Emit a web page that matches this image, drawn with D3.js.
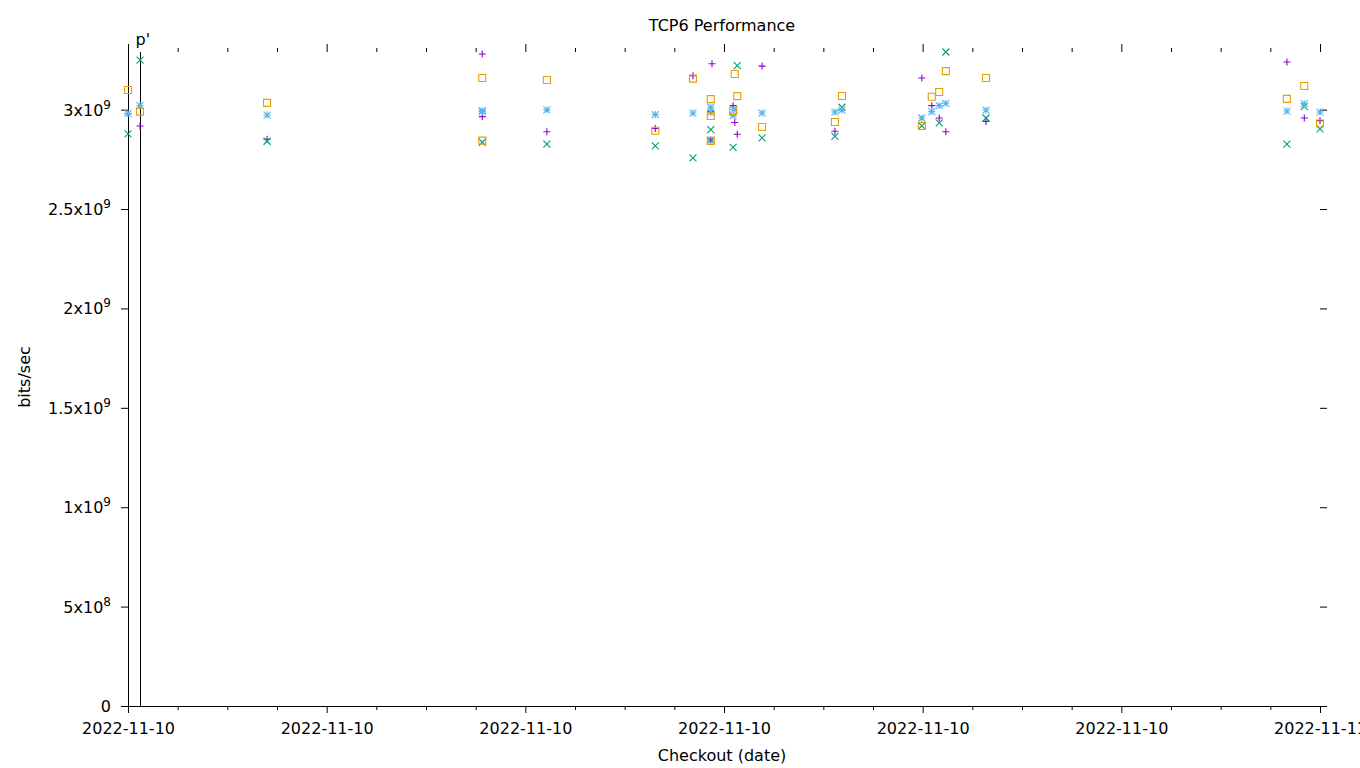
<!DOCTYPE html>
<html><head><meta charset="utf-8">
<script src="https://cdn.jsdelivr.net/npm/d3@7"></script>
<style>body{margin:0;background:#fff}svg text{font-family:"DejaVu Sans",sans-serif;font-size:16px;fill:#000}</style>
</head><body>
<script>
// ---- data ----
const title = "TCP6 Performance";
const xLabel = "Checkout (date)";
const yLabel = "bits/sec";
const xDomain = ["2022-11-10T00:00:00", "2022-11-11T00:00:00"];
const yTicks = [0, 5e8, 1e9, 1.5e9, 2e9, 2.5e9, 3e9];
const yMax = 3.29e9;
const markerTime = "2022-11-10T00:14:30";
const markerLabel = "p'";

// series 1: purple plus
const plusTimes = ["2022-11-10T00:00:00","2022-11-10T00:14:30","2022-11-10T02:48:00","2022-11-10T07:08:00","2022-11-10T07:08:00","2022-11-10T08:26:00","2022-11-10T10:37:00","2022-11-10T11:22:30","2022-11-10T11:45:30","2022-11-10T11:44:00","2022-11-10T11:44:00","2022-11-10T12:11:00","2022-11-10T12:13:00","2022-11-10T12:16:00","2022-11-10T12:46:00","2022-11-10T14:14:00","2022-11-10T15:59:00","2022-11-10T16:11:00","2022-11-10T16:20:00","2022-11-10T16:28:00","2022-11-10T17:16:30","2022-11-10T23:20:00","2022-11-10T23:41:00","2022-11-11T00:00:00"];
const plusValues = [2.98e9,2.918e9,2.851e9,3.28e9,2.965e9,2.889e9,2.905e9,3.171e9,3.231e9,2.99e9,2.847e9,3.02e9,2.935e9,2.876e9,3.219e9,2.891e9,3.159e9,3.02e9,2.958e9,2.889e9,2.941e9,3.24e9,2.958e9,2.945e9];

// series 2: green cross
const crossTimes = ["2022-11-10T00:00:00","2022-11-10T00:14:30","2022-11-10T02:48:00","2022-11-10T07:08:00","2022-11-10T08:26:00","2022-11-10T10:37:00","2022-11-10T11:22:30","2022-11-10T11:44:00","2022-11-10T11:44:00","2022-11-10T12:16:00","2022-11-10T12:11:00","2022-11-10T12:46:00","2022-11-10T14:14:00","2022-11-10T14:22:30","2022-11-10T15:59:00","2022-11-10T16:20:00","2022-11-10T16:28:00","2022-11-10T17:16:30","2022-11-10T23:20:00","2022-11-10T23:41:00","2022-11-11T00:00:00"];
const crossValues = [2.878e9,3.249e9,2.841e9,2.836e9,2.827e9,2.818e9,2.757e9,2.899e9,2.847e9,3.221e9,2.81e9,2.858e9,2.866e9,3.012e9,2.918e9,2.934e9,3.29e9,2.958e9,2.826e9,3.017e9,2.903e9];

// series 3: blue star
const starTimes = ["2022-11-10T00:00:00","2022-11-10T00:14:30","2022-11-10T02:48:00","2022-11-10T07:08:00","2022-11-10T07:08:00","2022-11-10T08:26:00","2022-11-10T10:37:00","2022-11-10T11:22:30","2022-11-10T11:44:00","2022-11-10T11:44:00","2022-11-10T12:12:00","2022-11-10T12:11:00","2022-11-10T12:46:00","2022-11-10T14:14:00","2022-11-10T14:22:30","2022-11-10T15:59:00","2022-11-10T16:11:00","2022-11-10T16:20:00","2022-11-10T16:28:00","2022-11-10T17:16:30","2022-11-10T23:20:00","2022-11-10T23:41:00","2022-11-11T00:00:00"];
const starValues = [2.981e9,3.02e9,2.973e9,2.995e9,2.99e9,2.999e9,2.975e9,2.983e9,3.012e9,2.987e9,3.0e9,2.97e9,2.983e9,2.988e9,2.998e9,2.958e9,2.99e9,3.02e9,3.032e9,2.998e9,2.993e9,3.03e9,2.988e9];

// series 4: orange square
const squareTimes = ["2022-11-10T00:00:00","2022-11-10T00:14:30","2022-11-10T02:48:00","2022-11-10T07:08:00","2022-11-10T07:08:00","2022-11-10T08:26:00","2022-11-10T10:37:00","2022-11-10T11:22:30","2022-11-10T11:44:00","2022-11-10T11:44:00","2022-11-10T11:44:00","2022-11-10T12:13:00","2022-11-10T12:16:00","2022-11-10T12:11:00","2022-11-10T12:46:00","2022-11-10T14:14:00","2022-11-10T14:22:30","2022-11-10T15:59:00","2022-11-10T16:11:00","2022-11-10T16:20:00","2022-11-10T16:28:00","2022-11-10T17:16:30","2022-11-10T23:20:00","2022-11-10T23:41:00","2022-11-11T00:00:00"];
const squareValues = [3.099e9,2.99e9,3.034e9,3.159e9,2.844e9,3.149e9,2.894e9,3.156e9,3.053e9,2.968e9,2.843e9,3.179e9,3.068e9,2.993e9,2.913e9,2.938e9,3.069e9,2.918e9,3.065e9,3.089e9,3.194e9,3.159e9,3.054e9,3.119e9,2.93e9];

const seriesColors = ["#9400d3", "#009e73", "#56b4e9", "#e69f00"];

// ---- drawing ----
const W = 1360, H = 768;
const L = 128, R = 1320, T = 52, B = 706;
const parse = d3.utcParse("%Y-%m-%dT%H:%M:%S");
const svg = d3.select("body").append("svg").attr("width", W).attr("height", H);

const x = d3.scaleUtc().domain(xDomain.map(parse)).range([L, R]);
const y = d3.scaleLinear().domain([0, yMax]).range([B, T]);

// title & labels
svg.append("text").attr("x", 722).attr("y", 31).attr("text-anchor", "middle").text(title);
svg.append("text").attr("x", 722).attr("y", 761).attr("text-anchor", "middle").text(xLabel);
svg.append("text").attr("transform", "translate(30,377) rotate(-90)").attr("text-anchor", "middle").text(yLabel);

// x axis (bottom) major + minor
const majorX = x.ticks(d3.utcHour.every(4));
const minorX = x.ticks(d3.utcHour.every(1));
const fmtX = d3.utcFormat("%Y-%m-%d");
const minorOnly = minorX.filter(t => !majorX.some(m => +m === +t));
const bottom = svg.append("g").attr("transform", `translate(0,${B})`)
  .call(d3.axisBottom(x).tickValues(majorX).tickFormat(fmtX).tickSize(7).tickSizeOuter(0).tickPadding(10));
bottom.select(".domain").attr("stroke", "#000").attr("d", `M${L - 7},0.5H${R}`);
bottom.selectAll("text").style("font-size", "16px").style("font-family", "DejaVu Sans").attr("fill", "#000");
svg.append("g").attr("transform", `translate(0,${B})`)
  .call(d3.axisBottom(x).tickValues(minorOnly).tickFormat("").tickSize(4).tickSizeOuter(0))
  .select(".domain").remove();
// top mirrored ticks (outward)
svg.append("g").attr("transform", `translate(0,${T})`)
  .call(d3.axisTop(x).tickValues(majorX).tickFormat("").tickSize(8).tickSizeOuter(0))
  .select(".domain").remove();
svg.append("g").attr("transform", `translate(0,${T})`)
  .call(d3.axisTop(x).tickValues(minorOnly).tickFormat("").tickSize(4).tickSizeOuter(0))
  .select(".domain").remove();

// y axis (left)
const left = svg.append("g").attr("transform", `translate(${L},0)`)
  .call(d3.axisLeft(y).tickValues(yTicks).tickFormat("").tickSize(7).tickSizeOuter(0));
left.select(".domain").attr("d", `M0.5,${B}V${T - 8}`);
// right mirrored ticks
svg.append("g").attr("transform", `translate(${R},0)`)
  .call(d3.axisRight(y).tickValues(yTicks).tickFormat("").tickSize(7).tickSizeOuter(0))
  .select(".domain").remove();

// y tick labels with superscripts
yTicks.forEach(v => {
  const t = svg.append("text").attr("x", L - 17).attr("y", y(v) + 6).attr("text-anchor", "end");
  if (v === 0) { t.text("0"); return; }
  const e = Math.floor(Math.log10(v));
  const m = +(v / Math.pow(10, e)).toFixed(2);
  t.append("tspan").text(m + "x10");
  t.append("tspan").attr("dy", -7).style("font-size", "12px").text(e);
});

// vertical marker line with label
const mx = Math.round(x(parse(markerTime))) + 0.5;
svg.append("line").attr("x1", mx).attr("x2", mx).attr("y1", T).attr("y2", B).attr("stroke", "#000");
svg.append("text").attr("x", mx - 5).attr("y", 45).text(markerLabel);

// markers
const s = 3.5;
const shapes = {
  plus: `M${-s},0H${s}M0,${-s}V${s}`,
  cross: `M${-s},${-s}L${s},${s}M${-s},${s}L${s},${-s}`,
  star: `M${-s},0H${s}M0,${-s}V${s}M${-s},${-s}L${s},${s}M${-s},${s}L${s},${-s}`,
  square: `M${-s},${-s}H${s}V${s}H${-s}Z`
};
const series = [
  {times: plusTimes, values: plusValues, shape: "plus", color: seriesColors[0]},
  {times: crossTimes, values: crossValues, shape: "cross", color: seriesColors[1]},
  {times: starTimes, values: starValues, shape: "star", color: seriesColors[2]},
  {times: squareTimes, values: squareValues, shape: "square", color: seriesColors[3]}
];
series.forEach(se => {
  const pts = se.times.map((t, i) => ({t: parse(t), v: se.values[i]}));
  svg.append("g").selectAll("path").data(pts).join("path")
    .attr("transform", d => `translate(${x(d.t)},${y(d.v)})`)
    .attr("d", shapes[se.shape]).attr("fill", "none")
    .attr("stroke", se.color).attr("stroke-width", 1.1);
});
svg.selectAll(".tick line").attr("stroke", "#000");
</script>
</body></html>
